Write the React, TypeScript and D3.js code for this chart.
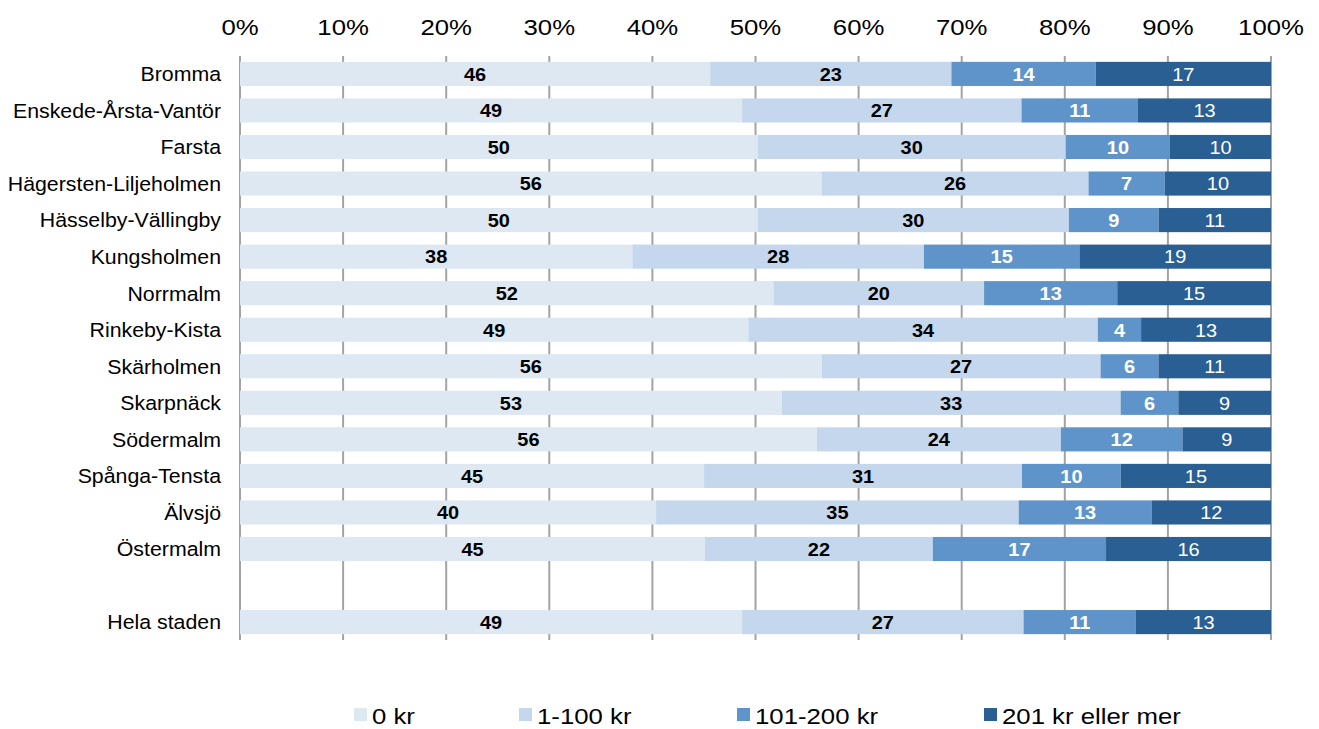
import * as d3 from "d3";
import React from "react";

// districts (top to bottom), "" is the empty spacer row
const categories = [
	"Bromma",
	"Enskede-Årsta-Vantör",
	"Farsta",
	"Hägersten-Liljeholmen",
	"Hässelby-Vällingby",
	"Kungsholmen",
	"Norrmalm",
	"Rinkeby-Kista",
	"Skärholmen",
	"Skarpnäck",
	"Södermalm",
	"Spånga-Tensta",
	"Älvsjö",
	"Östermalm",
	"",
	"Hela staden",
];

const seriesNames = ["0 kr", "1-100 kr", "101-200 kr", "201 kr eller mer"];

// percent per series, same order as categories (null for spacer)
const zeroKr = [45.6, 48.7, 50.2, 56.4, 50.2, 38.1, 51.7, 49.3, 56.3, 52.6, 56.0, 45.1, 40.4, 45.1, null, 48.7];
const upTo100 = [23.4, 27.1, 29.9, 25.9, 30.2, 28.3, 20.4, 33.9, 27.0, 32.9, 23.7, 30.9, 35.2, 22.1, null, 27.3];
const upTo200 = [14.0, 11.3, 10.1, 7.4, 8.7, 15.1, 12.9, 4.2, 5.6, 5.6, 11.8, 9.6, 12.9, 16.8, null, 10.9];
const over200 = [17.0, 12.9, 9.8, 10.3, 10.9, 18.6, 14.9, 12.6, 10.9, 9.0, 8.6, 14.6, 11.6, 16.0, null, 13.1];

const tickValues = [0, 0.1, 0.2, 0.3, 0.4, 0.5, 0.6, 0.7, 0.8, 0.9, 1];

const colors = ["#dde8f3", "#c5d7ec", "#5e94c9", "#2a5f93"];
const labelColors = ["#000", "#000", "#fff", "#fff"];
const labelWeights = ["bold", "bold", "bold", "normal"];
const legendX = [354, 519, 737, 984];

const W = 1319;
const H = 729;
const font = "'Liberation Sans', Arial, sans-serif";
// the source text is a bit wider than Liberation Sans
const stretch = 1.12;

export default function App() {
	const x = d3.scaleLinear().domain([0, 1]).range([240, 1271]);
	const y = d3
		.scaleBand()
		.domain(categories.map((c, i) => String(i)))
		.range([56, 640])
		.paddingInner(0.34)
		.paddingOuter(0.16);

	const rows = categories.map((c, i) => {
		const vals = [zeroKr[i], upTo100[i], upTo200[i], over200[i]];
		return { name: c, i, vals };
	});

	const stackData = rows
		.filter((r) => r.vals[0] != null)
		.map((r) => {
			const total = d3.sum(r.vals as number[]);
			const o: any = { key: String(r.i) };
			seriesNames.forEach((s, k) => (o[s] = (r.vals[k] as number) / total));
			o.raw = r.vals;
			return o;
		});

	const stack = d3.stack<any>().keys(seriesNames)(stackData);

	return (
		<svg
			width={W}
			height={H}
			style={{ position: "absolute", left: 0, top: 0, background: "#fff" }}
			fontFamily={font}
		>
			{/* gridlines */}
			{tickValues.map((t) => (
				<line
					key={t}
					x1={x(t)}
					x2={x(t)}
					y1={56}
					y2={640}
					stroke="#a3a3a3"
					strokeWidth={2}
				/>
			))}
			{tickValues.map((t) => (
				<text
					key={"t" + t}
					transform={`translate(${x(t)},35) scale(${stretch},1)`}
					textAnchor="middle"
					fontSize={23}
					fill="#000"
				>
					{d3.format(".0%")(t)}
				</text>
			))}
			{/* bars */}
			{stack.map((layer, k) => (
				<g key={layer.key}>
					{layer.map((d: any) => (
						<rect
							key={d.data.key}
							x={x(d[0])}
							width={x(d[1]) - x(d[0])}
							y={y(d.data.key)}
							height={y.bandwidth()}
							fill={colors[k]}
						/>
					))}
					{layer.map((d: any) => (
						<text
							key={"l" + d.data.key}
							transform={`translate(${(x(d[0]) + x(d[1])) / 2},${
								(y(d.data.key) as number) + y.bandwidth() / 2
							}) scale(1.05,1)`}
							dy="0.36em"
							textAnchor="middle"
							fontSize={19}
							fontWeight={labelWeights[k]}
							fill={labelColors[k]}
						>
							{Math.round(d.data.raw[k])}
						</text>
					))}
				</g>
			))}
			{/* category labels */}
			{rows.map((r) =>
				r.name ? (
					<text
						key={"c" + r.i}
						transform={`translate(221,${
							(y(String(r.i)) as number) + y.bandwidth() / 2
						}) scale(1.04,1)`}
						dy="0.36em"
						textAnchor="end"
						fontSize={20.5}
						fill="#000"
					>
						{r.name}
					</text>
				) : null
			)}
			{/* legend */}
			{seriesNames.map((s, k) => (
				<g key={"lg" + s} transform={`translate(${legendX[k]},0)`}>
					<rect x={0} y={708} width={13} height={13} fill={colors[k]} />
					<text
						transform={`translate(18,724) scale(${stretch},1)`}
						fontSize={23}
						fill="#000"
					>
						{s}
					</text>
				</g>
			))}
		</svg>
	);
}
